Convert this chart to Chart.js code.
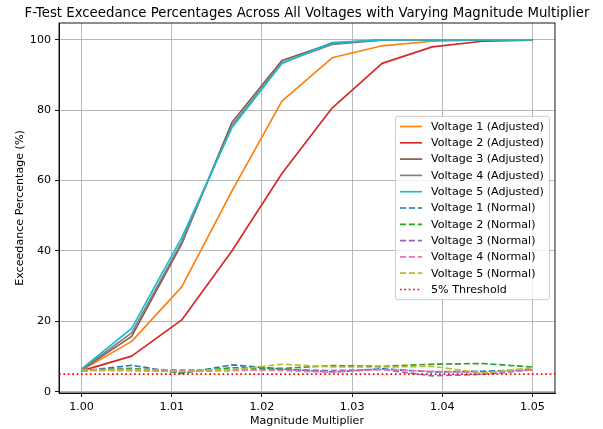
<!DOCTYPE html>
<html>
<head>
<meta charset="utf-8">
<script src="https://cdn.jsdelivr.net/npm/chart.js@4.4.0/dist/chart.umd.min.js"></script>
<style>
html,body{margin:0;padding:0;background:#fff;}
#wrap{width:603px;height:429px;position:relative;}
</style>
</head>
<body>
<div id="wrap"><canvas id="c" width="603" height="429"></canvas></div>
<script>
// ---- data ----
const multipliers = [1.0, 1.00556, 1.01111, 1.01667, 1.02222, 1.02778, 1.03333, 1.03889, 1.04444, 1.05];
const v1Adjusted = [6.1, 14.3, 29.8, 57.0, 82.6, 94.9, 98.3, 99.6, 100.0, 100.0];
const v2Adjusted = [5.9, 10.1, 20.4, 40.0, 62.0, 80.6, 93.3, 98.0, 99.6, 99.9];
const v3Adjusted = [6.2, 15.7, 42.0, 76.5, 94.1, 99.0, 100.0, 100.0, 100.0, 100.0];
const v4Adjusted = [6.3, 16.7, 42.6, 75.6, 93.5, 98.7, 99.9, 100.0, 100.0, 100.0];
const v5Adjusted = [6.5, 18.0, 43.8, 75.0, 93.3, 99.2, 100.0, 100.0, 100.0, 100.0];
const v1Normal = [5.8, 7.5, 5.2, 7.6, 6.4, 5.6, 6.5, 5.6, 5.8, 6.2];
const v2Normal = [6.0, 6.6, 5.5, 6.8, 6.6, 7.4, 7.2, 7.8, 8.0, 7.0];
const v3Normal = [6.2, 6.0, 5.8, 6.0, 6.3, 6.0, 6.3, 4.5, 4.9, 6.2];
const v4Normal = [6.3, 6.3, 6.2, 6.2, 6.0, 5.5, 6.3, 5.8, 5.4, 6.2];
const v5Normal = [5.9, 6.1, 5.7, 6.2, 7.8, 7.0, 7.0, 7.2, 5.3, 6.8];
const thresholdValue = 5;
const xTicks = [1.00, 1.01, 1.02, 1.03, 1.04, 1.05];
const yTicks = [0, 20, 40, 60, 80, 100];
const xRange = [0.9975, 1.0525];
const yRange = [-0.38, 104.78];

const FONT = "'DejaVu Sans', sans-serif";
const FS = 11.1;
const LW = 1.67;
const DASH = [6.2, 2.7];
const DOT = [1.67, 2.75];

function pts(arr){ return arr.map((v,i)=>({x:multipliers[i], y:v})); }

const seriesDefs = [
  ['Voltage 1 (Adjusted)', v1Adjusted, '#ff7f0e', []],
  ['Voltage 2 (Adjusted)', v2Adjusted, '#d62728', []],
  ['Voltage 3 (Adjusted)', v3Adjusted, '#8c564b', []],
  ['Voltage 4 (Adjusted)', v4Adjusted, '#7f7f7f', []],
  ['Voltage 5 (Adjusted)', v5Adjusted, '#17becf', []],
  ['Voltage 1 (Normal)', v1Normal, '#1f77b4', DASH],
  ['Voltage 2 (Normal)', v2Normal, '#2ca02c', DASH],
  ['Voltage 3 (Normal)', v3Normal, '#9467bd', DASH],
  ['Voltage 4 (Normal)', v4Normal, '#e377c2', DASH],
  ['Voltage 5 (Normal)', v5Normal, '#bcbd22', DASH],
];
const N = seriesDefs.length + 1;
const datasets = seriesDefs.map((s,i)=>({
  label: s[0], data: pts(s[1]), borderColor: s[2], backgroundColor: s[2],
  borderWidth: LW, borderDash: s[3], pointRadius: 0, tension: 0, fill: false,
  borderJoinStyle: 'round', order: N - i
}));
datasets.push({
  label: '5% Threshold',
  data: [{x:xRange[0], y:thresholdValue},{x:xRange[1], y:thresholdValue}],
  borderColor: '#ff0000', backgroundColor: '#ff0000', borderWidth: LW,
  borderDash: DOT, pointRadius: 0, fill: false, order: 0
});

const decor = {
  id: 'decor',
  afterDraw(chart){
    const ctx = chart.ctx, a = chart.chartArea;
    ctx.save();
    // frame
    ctx.strokeStyle = '#000'; ctx.lineWidth = 0.9;
    ctx.strokeRect(a.left, a.top, a.right - a.left, a.bottom - a.top);
    // title
    ctx.fillStyle = '#000';
    ctx.font = `13.3px ${FONT}`;
    ctx.textAlign = 'center'; ctx.textBaseline = 'alphabetic';
    ctx.fillText('F-Test Exceedance Percentages Across All Voltages with Varying Magnitude Multiplier', (a.left + a.right)/2, 16.5);
    // axis titles
    ctx.font = `${FS}px ${FONT}`;
    ctx.textBaseline = 'middle';
    ctx.fillText('Magnitude Multiplier', (a.left + a.right)/2, 421);
    ctx.save();
    ctx.translate(20, (a.top + a.bottom)/2);
    ctx.rotate(-Math.PI/2);
    ctx.fillText('Exceedance Percentage (%)', 0, 0);
    ctx.restore();
    // legend
    const ds = chart.data.datasets;
    const rowH = 16.3;
    const right = a.right - 5.5;
    const w = 154;
    const h = 4.4*2 + rowH*(ds.length-1) + 11.6;
    const left = right - w;
    const top = (a.top + a.bottom)/2 - h/2;
    const r = 2.2;
    ctx.beginPath();
    ctx.moveTo(left + r, top);
    ctx.lineTo(right - r, top); ctx.arcTo(right, top, right, top + r, r);
    ctx.lineTo(right, top + h - r); ctx.arcTo(right, top + h, right - r, top + h, r);
    ctx.lineTo(left + r, top + h); ctx.arcTo(left, top + h, left, top + h - r, r);
    ctx.lineTo(left, top + r); ctx.arcTo(left, top, left + r, top, r);
    ctx.closePath();
    ctx.fillStyle = 'rgba(255,255,255,0.8)'; ctx.fill();
    ctx.strokeStyle = '#cccccc'; ctx.lineWidth = 1; ctx.stroke();
    ctx.textAlign = 'left'; ctx.textBaseline = 'middle';
    ctx.font = `${FS}px ${FONT}`;
    ds.forEach((d,i)=>{
      const y = top + 4.4 + 5.8 + i*rowH;
      const hx = left + 4.4;
      ctx.beginPath();
      ctx.setLineDash(d.borderDash || []);
      ctx.strokeStyle = d.borderColor; ctx.lineWidth = d.borderWidth;
      ctx.moveTo(hx, y); ctx.lineTo(hx + 22.2, y); ctx.stroke();
      ctx.setLineDash([]);
      ctx.fillStyle = '#000';
      ctx.fillText(d.label, hx + 22.2 + 8.9, y + 0.5);
    });
    ctx.restore();
  }
};

new Chart(document.getElementById('c'), {
  type: 'line',
  data: { datasets },
  options: {
    responsive: false, animation: false, devicePixelRatio: 1,
    layout: { padding: { left: 0, top: 23, right: 48, bottom: 0 } },
    plugins: { legend: { display: false }, title: { display: false }, tooltip: { enabled: false } },
    scales: {
      x: {
        type: 'linear', min: xRange[0], max: xRange[1],
        afterBuildTicks(s){ s.ticks = xTicks.map(v=>({value:v})); },
        afterFit(s){ s.height = 36; },
        ticks: { callback: v => Number(v).toFixed(2), color: '#000', font: { family: FONT, size: FS }, padding: 3, maxRotation: 0, autoSkip: false },
        grid: { color: '#b0b0b0', lineWidth: 0.9, tickLength: 4, tickColor: '#000', tickWidth: 0.9 },
        border: { display: true, color: '#000', width: 0.9 }
      },
      y: {
        type: 'linear', min: yRange[0], max: yRange[1],
        afterBuildTicks(s){ s.ticks = yTicks.map(v=>({value:v})); },
        afterFit(s){ s.width = 59; },
        ticks: { callback: v => String(v), color: '#000', font: { family: FONT, size: FS }, padding: 4, autoSkip: false },
        grid: { color: '#b0b0b0', lineWidth: 0.9, tickLength: 4, tickColor: '#000', tickWidth: 0.9 },
        border: { display: true, color: '#000', width: 0.9 }
      }
    }
  },
  plugins: [decor]
});
</script>
</body>
</html>
